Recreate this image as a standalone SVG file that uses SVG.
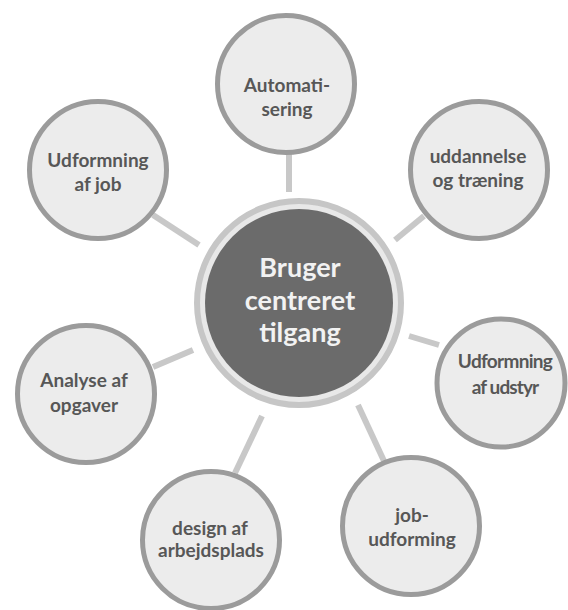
<svg xmlns="http://www.w3.org/2000/svg" width="568" height="610" viewBox="0 0 568 610">
<style>
.con{stroke:#c8c8c8;stroke-width:6;fill:none}
.sat{fill:#ececec;stroke:#9b9b9b;stroke-width:5}
.st{font-family:Lato,"Open Sans","Liberation Sans",sans-serif;font-weight:700;font-size:19px;fill:#575757;text-anchor:middle}
.ct{font-family:Lato,"Open Sans","Liberation Sans",sans-serif;font-weight:700;font-size:27px;fill:#f2f2f2;text-anchor:middle}
</style>
<rect width="568" height="610" fill="#ffffff"/>
<g id="connectors">
<line class="con" x1="289" y1="150" x2="289" y2="192"/>
<line class="con" x1="153" y1="215" x2="199" y2="245"/>
<line class="con" x1="424" y1="216" x2="395" y2="240"/>
<line class="con" x1="153" y1="367" x2="193" y2="350"/>
<line class="con" x1="409" y1="336" x2="439" y2="345"/>
<line class="con" x1="262" y1="416" x2="235" y2="473"/>
<line class="con" x1="358" y1="405" x2="384" y2="461"/>
</g>
<g id="center">
<circle cx="299" cy="303" r="102" fill="#e8e8e8" stroke="#c6c6c6" stroke-width="6"/>
<circle cx="299" cy="303" r="94" fill="#6b6b6b"/>
<text class="ct" x="300" y="277">Bruger</text>
<text class="ct" x="300" y="310">centreret</text>
<text class="ct" x="300" y="342">tilgang</text>
</g>
<g id="automatisering">
<circle class="sat" cx="286" cy="84" r="68.5"/>
<text class="st" x="287" y="92">Automati-</text>
<text class="st" x="287" y="116">sering</text>
</g>
<g id="udformning-af-job">
<circle class="sat" cx="98" cy="170" r="68.5"/>
<text class="st" x="98" y="167">Udformning</text>
<text class="st" x="98" y="191">af job</text>
</g>
<g id="uddannelse">
<circle class="sat" cx="479" cy="170" r="68.5"/>
<text class="st" x="478" y="163">uddannelse</text>
<text class="st" x="478" y="187">og træning</text>
</g>
<g id="udformning-af-udstyr">
<circle class="sat" cx="501" cy="383" r="64"/>
<text class="st" x="505" y="368" letter-spacing="-0.7">Udformning</text>
<text class="st" x="505" y="394" letter-spacing="-0.9">af udstyr</text>
</g>
<g id="analyse">
<circle class="sat" cx="86" cy="394" r="68.5"/>
<text class="st" x="84" y="387">Analyse af</text>
<text class="st" x="84" y="412">opgaver</text>
</g>
<g id="design">
<circle class="sat" cx="211" cy="540" r="68.5"/>
<text class="st" x="210" y="535">design af</text>
<text class="st" x="211" y="557">arbejdsplads</text>
</g>
<g id="job-udforming">
<circle class="sat" cx="411" cy="526" r="68.5"/>
<text class="st" x="412" y="522">job-</text>
<text class="st" x="412" y="546">udforming</text>
</g>
</svg>
